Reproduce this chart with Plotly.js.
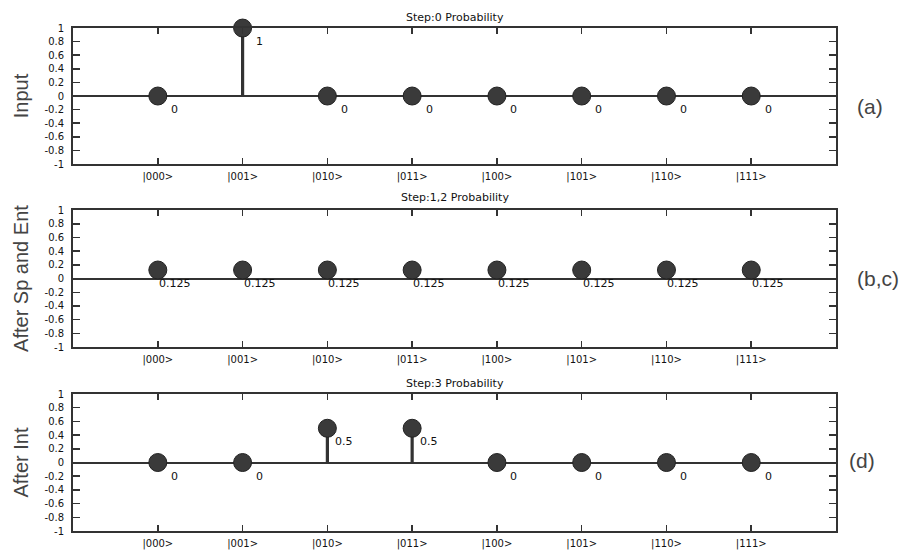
<!DOCTYPE html>
<html>
<head>
<meta charset="utf-8">
<script src="https://cdn.plot.ly/plotly-3.0.1.min.js"></script>
<style>html,body{margin:0;padding:0;background:#fff;}#chart{width:904px;height:550px;}</style>
</head>
<body>
<div id="chart"></div>
<script>
// ---- data ----
const categories = ["|000>", "|001>", "|010>", "|011>", "|100>", "|101>", "|110>", "|111>"];
const step0 = [0, 1, 0, 0, 0, 0, 0, 0];
const step12 = [0.125, 0.125, 0.125, 0.125, 0.125, 0.125, 0.125, 0.125];
const step3 = [0, 0, 0.5, 0.5, 0, 0, 0, 0];
const step0Labels = ["0", "1", "0", "0", "0", "0", "0", "0"];
const step12Labels = ["0.125", "0.125", "0.125", "0.125", "0.125", "0.125", "0.125", "0.125"];
const step3Labels = ["0", "0", "0.5", "0.5", "0", "0", "0", "0"];
const panelTitles = ["Step:0 Probability", "Step:1,2 Probability", "Step:3 Probability"];
const yTitles = ["Input", "After Sp and Ent", "After Int"];
const sideLabels = ["(a)", "(b,c)", "(d)"];
const yTickVals = [1, 0.8, 0.6, 0.4, 0.2, 0, -0.2, -0.4, -0.6, -0.8, -1];
const yTickText = ["1", "0.8", "0.6", "0.4", "0.2", "0", "-0.2", "-0.4", "-0.6", "-0.8", "-1"];

// ---- layout helpers ----
const series = [step0, step12, step3];
const labels = [step0Labels, step12Labels, step3Labels];
const yDomains = [[0.7018, 0.949], [0.369, 0.618], [0.0345, 0.2836]];
const xDomain = [0.0808, 0.9248];
const titleY = [0.969, 0.6418, 0.3036];
const sidePos = [[0.9458, 0.8055], [0.9458, 0.4945], [0.9369, 0.1636]];
const dark = "#333333";

const traces = [];
const annotations = [];
const layout = {
  width: 904, height: 550,
  margin: {l: 0, r: 0, t: 0, b: 0},
  paper_bgcolor: "#ffffff", plot_bgcolor: "#ffffff",
  showlegend: false,
  font: {family: "DejaVu Sans", size: 10, color: "#111"},
  annotations: annotations
};

series.forEach((vals, p) => {
  const sfx = p === 0 ? "" : String(p + 1);
  traces.push({
    type: "scatter", mode: "markers",
    x: categories, y: vals,
    xaxis: "x" + sfx, yaxis: "y" + sfx,
    marker: {size: 18, color: "#3a3a3a", line: {color: "#222", width: 1}},
    error_y: {type: "data", symmetric: false, array: vals.map(() => 0), arrayminus: vals,
              thickness: 3.2, width: 0, color: "#333"},
    cliponaxis: false,
    hoverinfo: "skip"
  });
  layout["xaxis" + sfx] = {
    domain: xDomain, anchor: "y" + sfx,
    type: "category", range: [-1, 8],
    showline: true, linecolor: dark, linewidth: 2, mirror: "ticks",
    ticks: "inside", ticklen: 6, tickwidth: 1.5, tickcolor: dark,
    showgrid: false, zeroline: false,
    ticklabelstandoff: 2,
    tickfont: {family: "DejaVu Sans", size: 10, color: "#111"},
    fixedrange: true
  };
  layout["yaxis" + sfx] = {
    domain: yDomains[p], anchor: "x" + sfx,
    range: [-1, 1],
    tickvals: yTickVals, ticktext: yTickText,
    showline: true, linecolor: dark, linewidth: 2, mirror: "ticks",
    ticks: "inside", ticklen: 7, tickwidth: 1.5, tickcolor: dark,
    showgrid: false,
    zeroline: true, zerolinecolor: dark, zerolinewidth: 2,
    ticklabelstandoff: 5,
    tickfont: {family: "DejaVu Sans", size: 10, color: "#111"},
    title: {text: yTitles[p], font: {family: "Liberation Sans", size: 20, color: "#444"}, standoff: 11},
    fixedrange: true
  };
  vals.forEach((v, i) => {
    annotations.push({
      xref: "x" + sfx, yref: "y" + sfx,
      x: i + 0.2, y: v - 0.2,
      text: labels[p][i], showarrow: false,
      xanchor: "center", yanchor: "middle",
      font: {family: "DejaVu Sans", size: 11, color: "#111"}
    });
  });
  annotations.push({
    xref: "paper", yref: "paper", x: 0.5028, y: titleY[p],
    text: panelTitles[p], showarrow: false, xanchor: "center", yanchor: "middle",
    font: {family: "DejaVu Sans", size: 11, color: "#111"}
  });
  annotations.push({
    xref: "paper", yref: "paper", x: sidePos[p][0], y: sidePos[p][1],
    text: sideLabels[p], showarrow: false, xanchor: "left", yanchor: "middle",
    font: {family: "Liberation Sans", size: 21, color: "#444"}
  });
});

Plotly.newPlot("chart", traces, layout, {staticPlot: true, displayModeBar: false});
</script>
</body>
</html>
